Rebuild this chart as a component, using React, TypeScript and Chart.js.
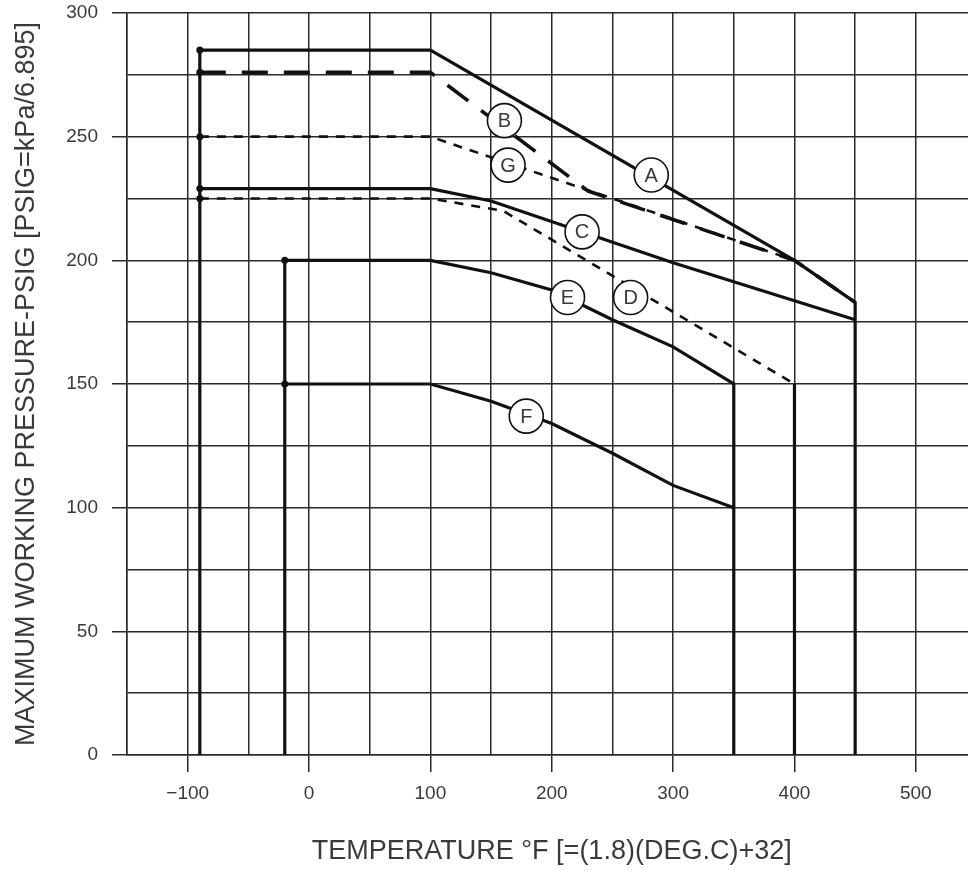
import React, { useEffect, useRef } from "react";
import { Chart, registerables } from "chart.js";

Chart.register(...registerables);

// Curve data: temperature (°F) and maximum working pressure (PSIG)
const A_T = [-90, -90, 100, 400, 450, 450];
const A_P = [0, 285, 285, 200, 183, 0];
const B_T = [-90, 100, 230, 400, 450];
const B_P = [276, 276, 228, 200, 183];
const G_T = [-90, 100, 400, 450];
const G_P = [250, 250, 200, 183];
const C_T = [-90, 100, 150, 300, 450];
const C_P = [229, 229, 224, 199, 176];
const D_T = [-90, 100, 160, 400, 400];
const D_P = [225, 225, 220, 150, 0];
const E_T = [-20, -20, 100, 150, 200, 250, 300, 350, 350];
const E_P = [0, 200, 200, 195, 188, 176, 165, 150, 0];
const F_T = [-20, 100, 150, 200, 250, 300, 350];
const F_P = [150, 150, 143, 134, 122, 109, 100];

// Circled curve labels
const LABEL_NAMES = ["A", "B", "G", "C", "E", "D", "F"];
const LABEL_T = [282, 161, 164, 225, 213, 265, 179];
const LABEL_P = [234.5, 256.5, 238.5, 211.5, 185, 185, 137];

const X_MIN = -150;
const X_MAX = 550;
const Y_MIN = 0;
const Y_MAX = 300;

const FONT = "'Liberation Sans', Arial, Helvetica, sans-serif";
const TEXT = "#3a3a3a";
const GRID = "#2a2a2a";
const INK = "#111111";
const NONE = "rgba(0,0,0,0)";

const toPts = (t: number[], p: number[]) => t.map((x, i) => ({ x, y: p[i] }));

const circleLabels = {
  id: "circleLabels",
  afterDatasetsDraw(chart: any) {
    const { ctx, scales } = chart;
    const xs = scales.x;
    const ys = scales.y;
    ctx.save();
    LABEL_NAMES.forEach((name, i) => {
      const px = xs.getPixelForValue(LABEL_T[i]);
      const py = ys.getPixelForValue(LABEL_P[i]);
      ctx.beginPath();
      ctx.arc(px, py, 17, 0, Math.PI * 2);
      ctx.fillStyle = "#ffffff";
      ctx.fill();
      ctx.lineWidth = 1.6;
      ctx.strokeStyle = INK;
      ctx.stroke();
      ctx.fillStyle = TEXT;
      ctx.font = `20px ${FONT}`;
      ctx.textAlign = "center";
      ctx.textBaseline = "middle";
      ctx.fillText(name, px, py + 1);
    });
    ctx.restore();
  },
};

export default function App() {
  const ref = useRef<HTMLCanvasElement | null>(null);

  useEffect(() => {
    document.body.style.margin = "0";
    document.body.style.overflow = "hidden";
    const canvas = ref.current;
    if (!canvas) return;

    const mk = (
      label: string,
      t: number[],
      p: number[],
      dash: number[],
      width: number,
      dotIndex: number
    ) => ({
      label,
      data: toPts(t, p),
      showLine: true,
      borderColor: INK,
      backgroundColor: INK,
      borderWidth: width,
      pointRadius: (c: any) => (c.dataIndex === dotIndex ? 3.5 : 0),
      pointHoverRadius: 0,
      pointBorderWidth: 0,
      segment: {
        borderDash: (c: any) => (c.p0.parsed.x === c.p1.parsed.x ? [] : dash),
        borderWidth: (c: any) => (c.p0.parsed.x === c.p1.parsed.x ? 3.2 : width),
      },
      tension: 0,
      clip: false,
    });

    const zeroPad = (s: any) => {
      s.paddingTop = 0;
      s.paddingBottom = 0;
      s.paddingLeft = 0;
      s.paddingRight = 0;
    };

    const chart = new Chart(canvas, {
      type: "scatter",
      data: {
        datasets: [
          mk("A", A_T, A_P, [], 3.2, 1),
          mk("B", B_T, B_P, [26, 16], 3.6, 0),
          mk("G", G_T, G_P, [9, 8], 2.6, 0),
          mk("C", C_T, C_P, [], 3.2, 0),
          mk("D", D_T, D_P, [9, 8], 2.6, 0),
          mk("E", E_T, E_P, [], 3.2, 1),
          mk("F", F_T, F_P, [], 3.2, 0),
        ] as any,
      },
      options: {
        animation: false,
        responsive: false,
        maintainAspectRatio: false,
        layout: { padding: { top: 13, left: 0, right: 0, bottom: 0 } },
        plugins: {
          legend: { display: false },
          tooltip: { enabled: false },
        },
        scales: {
          x: {
            type: "linear",
            min: X_MIN,
            max: X_MAX,
            afterFit: (s: any) => {
              s.height = 116;
              zeroPad(s);
            },
            ticks: {
              stepSize: 50,
              autoSkip: false,
              maxRotation: 0,
              padding: 10,
              color: TEXT,
              font: { family: FONT, size: 19 },
              callback: (v: any) =>
                Number(v) % 100 === 0
                  ? Number(v) < 0
                    ? "\u2212" + Math.abs(Number(v))
                    : String(v)
                  : "",
            },
            grid: {
              color: GRID,
              lineWidth: 1.5,
              tickLength: 17,
              tickColor: (c: any) =>
                c.tick && c.tick.value % 100 === 0 ? GRID : NONE,
            },
            border: { display: true, color: GRID, width: 1.5 },
            title: {
              display: true,
              text: "TEMPERATURE \u00b0F [=(1.8)(DEG.C)+32]",
              color: TEXT,
              font: { family: FONT, size: 27 },
              padding: { top: 0, bottom: 3 },
            },
          },
          y: {
            type: "linear",
            min: Y_MIN,
            max: Y_MAX,
            afterFit: (s: any) => {
              s.width = 127;
              zeroPad(s);
            },
            ticks: {
              stepSize: 25,
              autoSkip: false,
              padding: 14,
              color: TEXT,
              font: { family: FONT, size: 19 },
              callback: (v: any) => (Number(v) % 50 === 0 ? String(v) : ""),
            },
            grid: {
              color: GRID,
              lineWidth: 1.5,
              tickLength: 15,
              tickColor: (c: any) =>
                c.tick && c.tick.value % 50 === 0 ? GRID : NONE,
            },
            border: { display: true, color: GRID, width: 1.5 },
            title: {
              display: true,
              text: "MAXIMUM WORKING PRESSURE-PSIG [PSIG=kPa/6.895]",
              color: TEXT,
              font: { family: FONT, size: 27 },
              padding: { top: 10, bottom: 0 },
            },
          },
        },
      },
      plugins: [circleLabels],
    });

    return () => chart.destroy();
  }, []);

  return (
    <canvas
      ref={ref}
      width={980}
      height={871}
      style={{ position: "fixed", left: 0, top: 0, width: 980, height: 871 }}
    />
  );
}
